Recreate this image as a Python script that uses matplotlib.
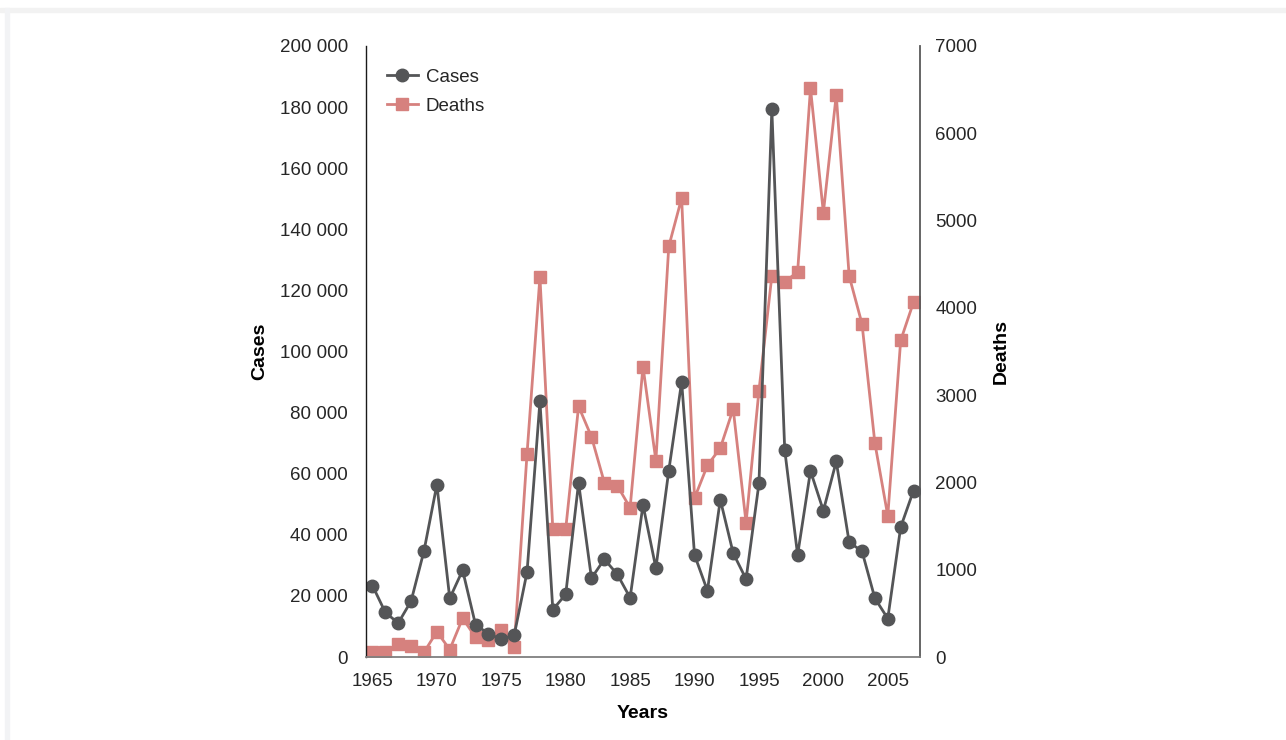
import matplotlib
matplotlib.use("Agg")
import matplotlib.pyplot as plt
from matplotlib.patches import Rectangle
from matplotlib.ticker import FuncFormatter

years = list(range(1965, 2008))
cases = [23400, 14600, 11100, 18300, 34700, 56400, 19200, 28400, 10600, 7600,
         5800, 7100, 27800, 83700, 15500, 20500, 57000, 25800, 32000, 27100,
         19400, 49800, 29100, 61000, 90100, 33400, 21700, 51500, 34000, 25500,
         56800, 179300, 67800, 33400, 60900, 47900, 64000, 37600, 34600, 19200,
         12600, 42500, 54500]
deaths = [53, 53, 144, 121, 53, 291, 85, 443, 227, 190,
          305, 112, 2330, 4354, 1464, 1464, 2872, 2523, 1998, 1964,
          1710, 3327, 2250, 4703, 5258, 1821, 2195, 2394, 2841, 1539,
          3051, 4366, 4297, 4412, 6514, 5091, 6441, 4366, 3816, 2449,
          1617, 3627, 4066]

CASES_COLOR = "#545557"
DEATHS_COLOR = "#d6817e"
TEXT_COLOR = "#262626"
FS = 13.5

plt.rcParams.update({
    "font.family": ["Liberation Sans", "DejaVu Sans"],
    "font.size": FS,
    "text.color": TEXT_COLOR,
    "xtick.color": TEXT_COLOR,
    "ytick.color": TEXT_COLOR,
})

fig = plt.figure(figsize=(12.86, 7.4), dpi=100)
# light grey frame strips seen in the reference
fig.patches.append(Rectangle((0, 1 - 12 / 740), 1, 4 / 740, transform=fig.transFigure,
                             color="#f2f2f2", zorder=0))
fig.patches.append(Rectangle((5 / 1286, 0), 4 / 1286, 1 - 8 / 740, transform=fig.transFigure,
                             color="#f2f3f5", zorder=0))

ax = fig.add_axes([366 / 1286, 1 - 657 / 740, (920 - 366) / 1286, (657 - 46) / 740])
ax2 = ax.twinx()

ln1, = ax.plot(years, cases, color=CASES_COLOR, lw=2.0, marker="o", ms=9,
               label="Cases")
ln2, = ax2.plot(years, deaths, color=DEATHS_COLOR, lw=2.0, marker="s", ms=8.5,
                label="Deaths")

ax.set_zorder(ax2.get_zorder() + 1)
ax.patch.set_visible(False)

ax.set_xlim(1964.5, 2007.5)
ax.set_ylim(0, 200000)
ax2.set_ylim(0, 7000)
ax.set_xticks(range(1965, 2006, 5))
ax.set_yticks(range(0, 200001, 20000))
ax2.set_yticks(range(0, 7001, 1000))
ax.yaxis.set_major_formatter(FuncFormatter(lambda v, p: f"{int(v):,}".replace(",", " ")))

for a in (ax, ax2):
    a.spines["top"].set_visible(False)
    a.tick_params(length=0, labelsize=FS)
ax.tick_params(axis="y", pad=13)
ax.tick_params(axis="x", pad=11.5)
ax2.tick_params(axis="y", pad=11)
ax.spines["right"].set_visible(False)
ax.spines["left"].set_color("#1a1a1a")
ax.spines["bottom"].set_color("#7f7f7f")
ax2.spines["right"].set_color("#595959")
ax2.spines["left"].set_visible(False)
ax2.spines["bottom"].set_visible(False)
ax.spines["left"].set_linewidth(1.0)
ax.spines["bottom"].set_linewidth(1.3)
ax2.spines["right"].set_linewidth(1.3)

ax.set_xlabel("Years", fontweight="bold", fontsize=FS + 0.5)
ax.set_ylabel("Cases", fontweight="bold", fontsize=FS + 0.5)
ax2.set_ylabel("Deaths", fontweight="bold", fontsize=FS + 0.5)
ax.xaxis.set_label_coords(0.5, -0.078)
ax.yaxis.set_label_coords(-0.177, 0.5)
ax2.yaxis.set_label_coords(1.131, 0.5)

ax.legend([ln1, ln2], ["Cases", "Deaths"], loc="upper left", frameon=False,
          fontsize=FS, handlelength=1.7, borderaxespad=0, borderpad=0.4,
          labelspacing=0.65, handletextpad=0.4, bbox_to_anchor=(0.0235, 0.9755))

plt.savefig("out.png", dpi=100)
